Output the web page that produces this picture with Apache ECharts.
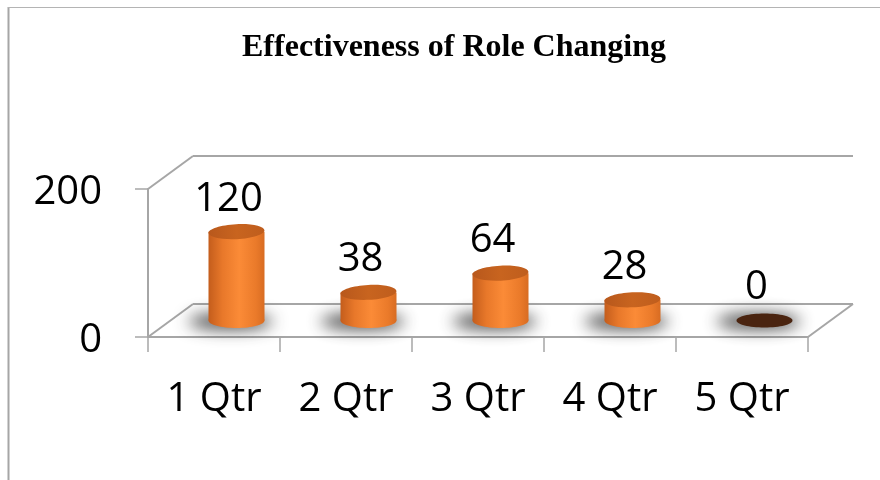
<!DOCTYPE html>
<html>
<head>
<meta charset="utf-8">
<script src="https://cdn.jsdelivr.net/npm/echarts@6/dist/echarts.min.js"></script>
<style>html,body{margin:0;padding:0;background:#fff;}#main{width:880px;height:480px;}</style>
</head>
<body>
<div id="main"></div>
<script>
var categories = ['1 Qtr', '2 Qtr', '3 Qtr', '4 Qtr', '5 Qtr'];
var values = [120, 38, 64, 28, 0];
var yTicks = [0, 200];
var titleText = 'Effectiveness of Role Changing';

var chart = echarts.init(document.getElementById('main'), null, {renderer: 'canvas'});
var lineColor = '#a6a6a6';
var FONT = '"Open Sans", "Noto Sans", sans-serif';

function cylinder(params, api) {
  var idx = api.value(0);
  var val = api.value(1);
  var base = api.coord([idx, 0]);
  var top = api.coord([idx, val]);
  var cx = base[0];
  var y0 = base[1];
  var y1 = top[1];
  var rx = 28, ry = 7.5;
  var OFF = 3000;
  var children = [];
  // soft floor shadow (ellipse drawn off-screen, only its blurred shadow lands under the bar)
  children.push({
    type: 'ellipse',
    shape: {cx: cx - 6 - OFF, cy: y0 + 1, rx: 42, ry: 8},
    style: {
      fill: '#000',
      shadowColor: 'rgba(40,40,40,0.85)',
      shadowBlur: 16,
      shadowOffsetX: OFF,
      shadowOffsetY: 0
    },
    silent: true
  });
  if (val <= 0) {
    children.push({
      type: 'ellipse',
      shape: {cx: cx, cy: y0, rx: rx, ry: 7},
      style: {fill: '#4a2410'}
    });
  } else {
    var grad = new echarts.graphic.LinearGradient(0, 0, 1, 0, [
      {offset: 0, color: '#c45d1c'},
      {offset: 0.25, color: '#e8782a'},
      {offset: 0.55, color: '#fb8b37'},
      {offset: 0.85, color: '#ea7a2a'},
      {offset: 1, color: '#d86c22'}
    ]);
    children.push({
      type: 'ellipse',
      shape: {cx: cx, cy: y0, rx: rx, ry: ry},
      style: {fill: grad}
    });
    children.push({
      type: 'rect',
      shape: {x: cx - rx, y: y1, width: rx * 2, height: y0 - y1},
      style: {fill: grad}
    });
    children.push({
      type: 'ellipse',
      shape: {cx: cx, cy: y1, rx: rx, ry: ry},
      rotation: 0.05,
      originX: cx, originY: y1,
      style: {
        fill: new echarts.graphic.LinearGradient(0, 0, 1, 0, [
          {offset: 0, color: '#b8581c'},
          {offset: 0.5, color: '#c8641f'},
          {offset: 1, color: '#bf5d1d'}
        ])
      }
    });
  }
  children.push({
    type: 'text',
    style: {
      text: String(val),
      x: cx - 8,
      y: y1 - ry - 5,
      align: 'center',
      verticalAlign: 'bottom',
      font: '40px ' + FONT,
      fill: '#000'
    }
  });
  return {type: 'group', children: children};
}

var option = {
  backgroundColor: '#fff',
  animation: false,
  title: {
    text: titleText,
    left: 449,
    top: 27,
    textAlign: 'center',
    textStyle: {fontFamily: '"Liberation Serif", "Times New Roman", serif', fontWeight: 'bold', fontSize: 32, color: '#000'}
  },
  grid: [
    {left: 148, top: 189, width: 660, height: 148},
    {left: 193, top: 156, width: 660, height: 148},
    {left: 170.5, top: 172.5, width: 660, height: 148}
  ],
  xAxis: [
    {
      type: 'category', gridIndex: 0, data: categories,
      axisLine: {lineStyle: {color: lineColor, width: 2}},
      axisTick: {show: true, length: 15, lineStyle: {color: lineColor, width: 1.5}},
      axisLabel: {fontSize: 40, fontFamily: FONT, color: '#000', margin: 43, interval: 0}
    },
    {type: 'category', gridIndex: 1, data: categories, show: false},
    {type: 'category', gridIndex: 2, data: categories, show: false}
  ],
  yAxis: [
    {
      type: 'value', gridIndex: 0, min: yTicks[0], max: yTicks[1], interval: yTicks[1] - yTicks[0],
      axisLine: {show: true, lineStyle: {color: lineColor, width: 2}},
      axisTick: {show: true, length: 13, lineStyle: {color: lineColor, width: 1.5}},
      splitLine: {show: false},
      axisLabel: {
        margin: 46,
        formatter: '{v|{value}}',
        rich: {v: {fontSize: 40, fontFamily: FONT, color: '#000', padding: [8, 0, 0, 0]}}
      }
    },
    {
      type: 'value', gridIndex: 1, min: yTicks[0], max: yTicks[1], interval: yTicks[1] - yTicks[0],
      axisLine: {show: false}, axisTick: {show: false}, axisLabel: {show: false},
      splitLine: {show: true, lineStyle: {color: lineColor, width: 2}}
    },
    {
      type: 'value', gridIndex: 2, min: yTicks[0], max: yTicks[1], interval: yTicks[1] - yTicks[0],
      show: false, splitLine: {show: false}
    }
  ],
  graphic: [
    {type: 'line', shape: {x1: 8.5, y1: 7, x2: 8.5, y2: 480}, style: {stroke: '#a6a6a6', lineWidth: 2}, silent: true},
    {type: 'line', shape: {x1: 8, y1: 7.5, x2: 880, y2: 7.5}, style: {stroke: '#b4b4b4', lineWidth: 1}, silent: true},
    {type: 'line', shape: {x1: 148, y1: 189, x2: 193, y2: 156}, style: {stroke: lineColor, lineWidth: 2}, silent: true},
    {type: 'line', shape: {x1: 148, y1: 337, x2: 193, y2: 304}, style: {stroke: lineColor, lineWidth: 2}, silent: true},
    {type: 'line', shape: {x1: 808, y1: 337, x2: 853, y2: 304}, style: {stroke: lineColor, lineWidth: 2}, silent: true}
  ],
  series: [{
    type: 'custom',
    xAxisIndex: 2, yAxisIndex: 2,
    renderItem: cylinder,
    data: values.map(function (v, i) { return [i, v]; }),
    z: 5
  }]
};
chart.setOption(option);
</script>
</body>
</html>
